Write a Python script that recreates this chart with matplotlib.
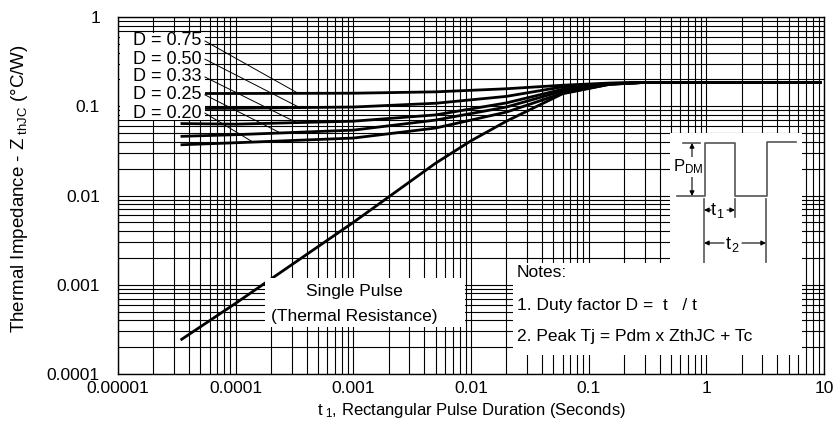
import numpy as np
import matplotlib
matplotlib.use("Agg")
import matplotlib.pyplot as plt
from matplotlib.patches import Rectangle
from matplotlib.ticker import FixedLocator, FixedFormatter, LogLocator, NullFormatter

plt.rcParams['font.family'] = ['Liberation Sans', 'DejaVu Sans']
plt.rcParams['mathtext.fontset'] = 'custom'
plt.rcParams['mathtext.rm'] = 'Liberation Sans'
plt.rcParams['mathtext.it'] = 'Liberation Sans'

# ---- data ----
t = [3.4e-5, 1e-4, 1e-3, 5e-3, 2e-2, 6e-2, 0.15, 0.3, 9.5]
duty = ["0.75", "0.50", "0.33", "0.25", "0.20"]
z_075 = [0.139, 0.139, 0.140, 0.145, 0.157, 0.172, 0.182, 0.185, 0.185]
z_050 = [0.094, 0.095, 0.098, 0.108, 0.129, 0.165, 0.180, 0.185, 0.185]
z_033 = [0.064, 0.063, 0.068, 0.080, 0.109, 0.155, 0.178, 0.185, 0.185]
z_025 = [0.046, 0.048, 0.054, 0.070, 0.098, 0.148, 0.177, 0.185, 0.185]
z_020 = [0.037, 0.039, 0.044, 0.057, 0.086, 0.140, 0.176, 0.185, 0.185]
t_single = [3.4e-5, 1e-4, 1e-3, 5e-3, 1e-2, 2e-2, 6e-2, 0.15, 0.3, 9.5]
z_single = [0.00024, 0.00062, 0.0050, 0.023, 0.041, 0.068, 0.138, 0.176, 0.185, 0.185]
# where each D leader line meets its curve
t_leader = [3.4e-4, 3.5e-4, 3.3e-4, 2.4e-4, 1.4e-4]

xticks = [1e-5, 1e-4, 1e-3, 1e-2, 1e-1, 1, 10]
xticklabels = ["0.00001", "0.0001", "0.001", "0.01", "0.1", "1", "10"]
yticks = [1e-4, 1e-3, 1e-2, 1e-1, 1]
yticklabels = ["0.0001", "0.001", "0.01", "0.1", "1"]

fig = plt.figure(figsize=(8.37, 4.29), dpi=100)
ax = fig.add_axes([118/837, 1-374/429, 706/837, 357/429])
ax.set_xscale('log')
ax.set_yscale('log')
ax.set_xlim(1e-5, 10)
ax.set_ylim(1e-4, 1)

ax.xaxis.set_major_locator(FixedLocator(xticks))
ax.xaxis.set_major_formatter(FixedFormatter(xticklabels))
ax.yaxis.set_major_locator(FixedLocator(yticks))
ax.yaxis.set_major_formatter(FixedFormatter(yticklabels))
ax.xaxis.set_minor_locator(LogLocator(base=10, subs=np.arange(2, 10)))
ax.yaxis.set_minor_locator(LogLocator(base=10, subs=np.arange(2, 10)))
ax.xaxis.set_minor_formatter(NullFormatter())
ax.yaxis.set_minor_formatter(NullFormatter())
ax.tick_params(which='both', length=0, labelsize=12.5, colors='black')
ax.tick_params(axis='x', pad=5)
ax.tick_params(axis='y', pad=13)
ax.grid(True, which='both', color='black', lw=0.8)
for s in ax.spines.values():
    s.set_color('black')
    s.set_linewidth(1)

curves = [z_075, z_050, z_033, z_025, z_020]
for z in curves:
    ax.plot(t, z, color='black', lw=2, zorder=3, solid_capstyle='butt')
ax.plot(t_single, z_single, color='black', lw=2, zorder=3, solid_capstyle='butt')

# white label boxes
for (x0, y0, w, h) in [(0.003, 0.711, 0.120, 0.244),
                       (0.208, 0.132, 0.284, 0.137),
                       (0.559, 0.053, 0.410, 0.258),
                       (0.782, 0.300, 0.187, 0.375)]:
    ax.add_patch(Rectangle((x0, y0), w, h, transform=ax.transAxes,
                           facecolor='white', edgecolor='none', zorder=4))

# duty labels with leader lines
label_y = [0.933, 0.882, 0.832, 0.782, 0.731]
for d, z, tl, ly in zip(duty, curves, t_leader, label_y):
    zl = 10 ** np.interp(np.log10(tl), np.log10(t), np.log10(z))
    ax.text(0.021, ly, "D = " + d, transform=ax.transAxes, fontsize=13,
            va='center', ha='left', zorder=5)
    ax.annotate("", xy=(tl, zl), xycoords='data',
                xytext=(0.123, ly), textcoords='axes fraction',
                arrowprops=dict(arrowstyle='-', color='black', lw=0.7,
                                shrinkA=0, shrinkB=0), zorder=5)

ax.text(0.335, 0.232, "Single Pulse", transform=ax.transAxes, fontsize=12.5,
        ha='center', va='center', zorder=5)
ax.text(0.335, 0.160, "(Thermal Resistance)", transform=ax.transAxes, fontsize=12.5,
        ha='center', va='center', zorder=5)

ax.text(0.565, 0.283, "Notes:", transform=ax.transAxes, fontsize=12.5,
        ha='left', va='center', zorder=5)
ax.text(0.565, 0.191, "1. Duty factor D =  t   / t", transform=ax.transAxes,
        fontsize=12.5, ha='left', va='center', zorder=5)
ax.text(0.565, 0.104, "2. Peak Tj = Pdm x ZthJC + Tc", transform=ax.transAxes,
        fontsize=12.5, ha='left', va='center', zorder=5)

ax.set_xlabel(r"t$_{\ 1}$, Rectangular Pulse Duration (Seconds)", fontsize=12)
ax.set_ylabel(r"Thermal Impedance - Z$_{\ \rm thJC}$ (°C/W)", fontsize=13.5)
ax.xaxis.set_label_coords(0.5, -0.075)
ax.yaxis.set_label_coords(-0.125, 0.52)

# pulse waveform sketch (pixel-like units in an overlay)
ins = fig.add_axes([670/837, 1-263/429, 132/837, 130/429])
ins.set_xlim(670, 802)
ins.set_ylim(263, 133)
ins.axis('off')
g = '#555555'
ins.plot([677, 705, 705, 735, 735, 767, 767, 796],
         [196, 196, 143, 143, 196, 196, 142, 142], color=g, lw=1.2)
ins.plot([683, 700], [143, 143], color=g, lw=1.2)
ins.annotate("", xy=(692, 143), xytext=(692, 196),
             arrowprops=dict(arrowstyle='<|-|>', color='black', lw=0.8,
                             mutation_scale=7, shrinkA=0, shrinkB=0))
ins.text(688, 167, r"P$_{\rm DM}$", fontsize=12, ha='center', va='center',
         bbox=dict(facecolor='white', edgecolor='none', pad=0.5))
ins.plot([704, 704], [199, 263], color=g, lw=1.2)
ins.plot([735, 735], [199, 217], color=g, lw=1.2)
ins.plot([766, 766], [199, 262], color=g, lw=1.2)
ins.annotate("", xy=(704, 210), xytext=(711, 210),
             arrowprops=dict(arrowstyle='-|>', color='black', lw=0.8,
                             mutation_scale=7, shrinkA=0, shrinkB=0))
ins.annotate("", xy=(735, 210), xytext=(727, 210),
             arrowprops=dict(arrowstyle='-|>', color='black', lw=0.8,
                             mutation_scale=7, shrinkA=0, shrinkB=0))
ins.text(718, 211, r"t$_{\,1}$", fontsize=13, ha='center', va='center')
ins.annotate("", xy=(704, 243), xytext=(724, 243),
             arrowprops=dict(arrowstyle='-|>', color='black', lw=0.8,
                             mutation_scale=7, shrinkA=0, shrinkB=0))
ins.annotate("", xy=(766, 243), xytext=(742, 243),
             arrowprops=dict(arrowstyle='-|>', color='black', lw=0.8,
                             mutation_scale=7, shrinkA=0, shrinkB=0))
ins.text(733, 244, r"t$_{\,2}$", fontsize=13, ha='center', va='center')

fig.savefig("out.png", dpi=100)
